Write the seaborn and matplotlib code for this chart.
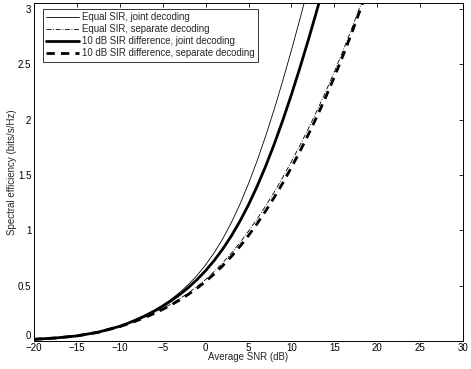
import pandas as pd
import seaborn as sns
import matplotlib
matplotlib.use("Agg")
import matplotlib.pyplot as plt

# values (SNR in dB -> spectral efficiency in bits/s/Hz)
snr = [-20, -17.5, -15, -12.5, -10, -9, -8, -7, -6, -5, -4, -3, -2, -1, 0,
       1, 2, 3, 4, 5, 6, 7, 8, 9, 10, 11, 12, 13, 14, 15, 16, 17, 18, 19]
eq_joint = [0.015, 0.027, 0.046, 0.08, 0.135, 0.164, 0.197, 0.234, 0.276, 0.324, 0.378, 0.440, 0.511, 0.593, 0.688,
            0.798, 0.925, 1.071, 1.237, 1.423, 1.629, 1.854, 2.097, 2.356, 2.629, 2.914, 3.209,
            None, None, None, None, None, None, None]
eq_sep = [0.015, 0.027, 0.046, 0.08, 0.131, 0.158, 0.187, 0.219, 0.254, 0.293, 0.336, 0.383, 0.435, 0.492, 0.556,
          0.628, 0.707, 0.794, 0.889, 0.994, 1.104, 1.221, 1.347, 1.481, 1.623, 1.770, 1.924, 2.085, 2.255,
          2.434, 2.622, 2.819, 3.024, 3.240]
diff_joint = [0.015, 0.027, 0.046, 0.08, 0.133, 0.162, 0.194, 0.230, 0.270, 0.315, 0.365, 0.421, 0.484, 0.555, 0.636,
              0.728, 0.832, 0.950, 1.083, 1.232, 1.398, 1.581, 1.781, 1.997, 2.228, 2.473, 2.730, 2.998, 3.275,
              None, None, None, None, None]
diff_sep = [0.015, 0.027, 0.046, 0.079, 0.130, 0.156, 0.184, 0.215, 0.249, 0.286, 0.327, 0.372, 0.422, 0.477, 0.538,
            0.606, 0.681, 0.764, 0.855, 0.954, 1.061, 1.176, 1.299, 1.430, 1.569, 1.716, 1.871, 2.034, 2.206,
            2.387, 2.578, 2.779, 2.990, 3.211]

labels = ["Equal SIR, joint decoding",
          "Equal SIR, separate decoding",
          "10 dB SIR difference, joint decoding",
          "10 dB SIR difference, separate decoding"]

df = pd.DataFrame({"snr": snr,
                   labels[0]: eq_joint, labels[1]: eq_sep,
                   labels[2]: diff_joint, labels[3]: diff_sep})

sns.set_theme(style="white")
plt.rcParams["font.family"] = ["Liberation Sans", "DejaVu Sans"]

fig = plt.figure(figsize=(4.71, 3.69), dpi=100)
ax = fig.add_axes([0.0722, 0.0759, 0.911, 0.916])

styles = [dict(color="black", lw=0.6, ls="-"),
          dict(color="black", lw=0.6, ls=(0, (6, 2, 1, 2))),
          dict(color="black", lw=2.0, ls="-"),
          dict(color="black", lw=2.0, ls=(0, (3, 2.2)))]
for lab, st in zip(labels, styles):
    sub = df[["snr", lab]].dropna()
    sns.lineplot(data=sub, x="snr", y=lab, ax=ax, label=lab, **st)

ax.set_xlim(-20, 30)
ax.set_ylim(0, 3.055)
ax.set_xticks(range(-20, 31, 5))
ax.set_yticks([0, 0.5, 1, 1.5, 2, 2.5, 3])
ax.set_yticklabels(["0", "0.5", "1", "1.5", "2", "2.5", "3"])
ax.get_yticklabels()[0].set_va("bottom")
ax.set_xlabel("Average SNR (dB)", fontsize=7, labelpad=-1)
ax.set_ylabel("Spectral efficiency (bits/s/Hz)", fontsize=7, labelpad=0.5)
ax.tick_params(direction="in", length=3, width=0.6, labelsize=7, top=True, right=True,
               colors="black", pad=2)
ax.tick_params(axis="x", pad=1.5)
for s in ax.spines.values():
    s.set_color("black")
    s.set_linewidth(0.7)

leg = ax.legend(loc="upper left", bbox_to_anchor=(0.021, 0.982), borderaxespad=0,
                fontsize=6.9, frameon=True, fancybox=False,
                handlelength=3.4, handletextpad=0.3, borderpad=0.35, labelspacing=0.2)
leg.get_frame().set_edgecolor("black")
leg.get_frame().set_linewidth(0.7)

fig.savefig("out.png", dpi=100)
